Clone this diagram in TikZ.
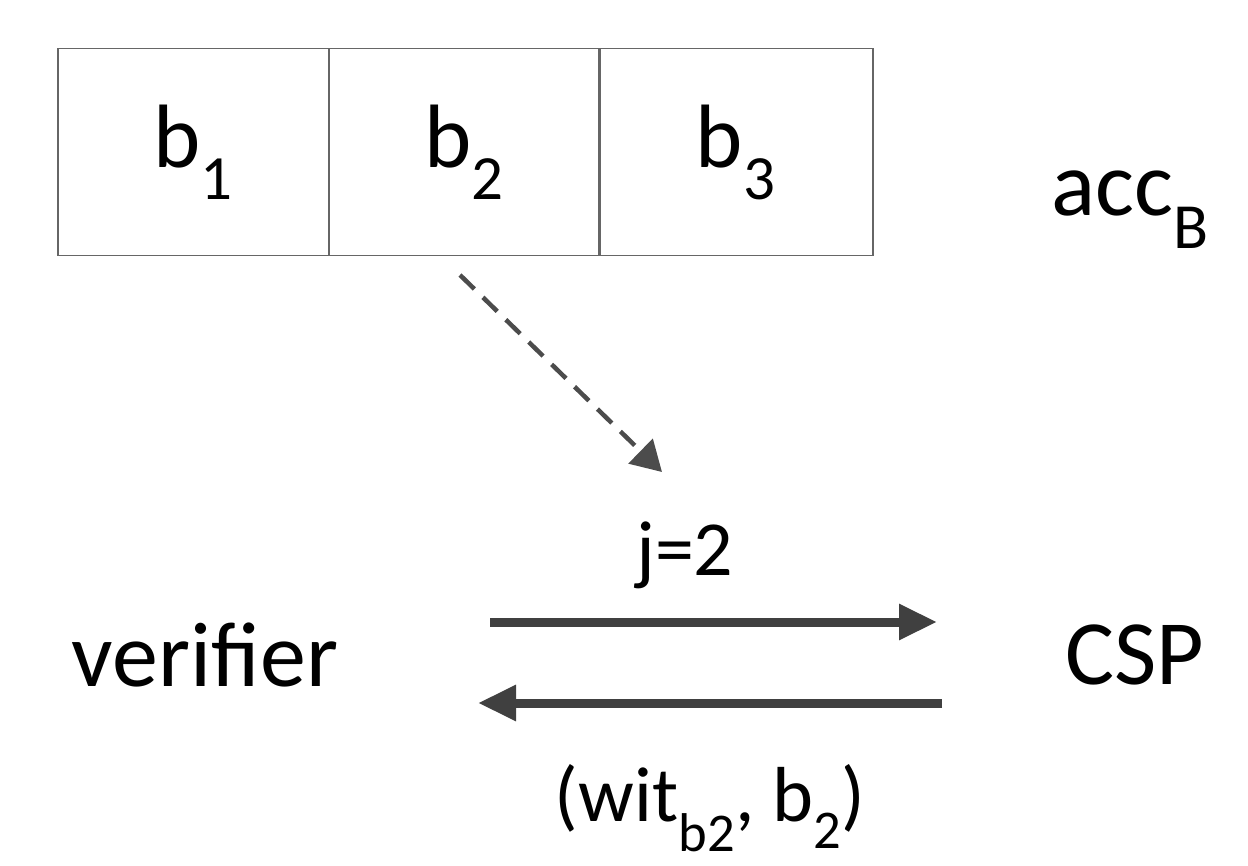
\documentclass[tikz,border=0pt]{standalone}
\usepackage{fontspec}
\setmainfont{Carlito}
\usetikzlibrary{arrows.meta}
\begin{document}
\begin{tikzpicture}[x=1pt,y=-1pt,
  cell/.style={draw=gray!80!black,line width=1.5pt,minimum width=271pt,minimum height=207pt,inner sep=0pt,font=\fontsize{90}{100}\selectfont},
  lbl/.style={font=\fontsize{92}{100}\selectfont,inner sep=0pt},
  arr/.style={line width=9pt,draw=black!75,-{Triangle[length=38pt,width=34pt]}},
  darr/.style={line width=4.5pt,draw=black!70,dash pattern=on 20pt off 12pt,-{Triangle[length=30pt,width=34pt]}}]
\useasboundingbox (0,0) rectangle (1248,866);
\node[cell,anchor=north west] (c1) at (57,48) {b$_{\mathrm{1}}$};
\node[cell,anchor=north west] (c2) at (328,48) {b$_{\mathrm{2}}$};
\node[cell,anchor=north west,minimum width=274pt] (c3) at (598,48) {b$_{\mathrm{3}}$};
\node[lbl] (acc) at (1130,210) {acc\textsubscript{B}};
\node[lbl] (ver) at (205,655) {verifier};
\node[lbl] (csp) at (1135,655) {CSP};
\node[lbl,font=\fontsize{78}{90}\selectfont] (j) at (685,555) {j=2};
\node[lbl,font=\fontsize{78}{90}\selectfont] (w) at (710,808) {(wit\textsubscript{b2}, b\textsubscript{2})};
\coordinate (d1) at (460,275); \coordinate (d2) at (662,472);
\draw[darr] (d1) -- (d2);
\coordinate (a1) at (490,622); \coordinate (a2) at (937,622);
\coordinate (b1) at (942,703); \coordinate (b2) at (478,703);
\draw[arr] (a1) -- (a2);
\draw[arr] (b1) -- (b2);
\end{tikzpicture}
\end{document}
